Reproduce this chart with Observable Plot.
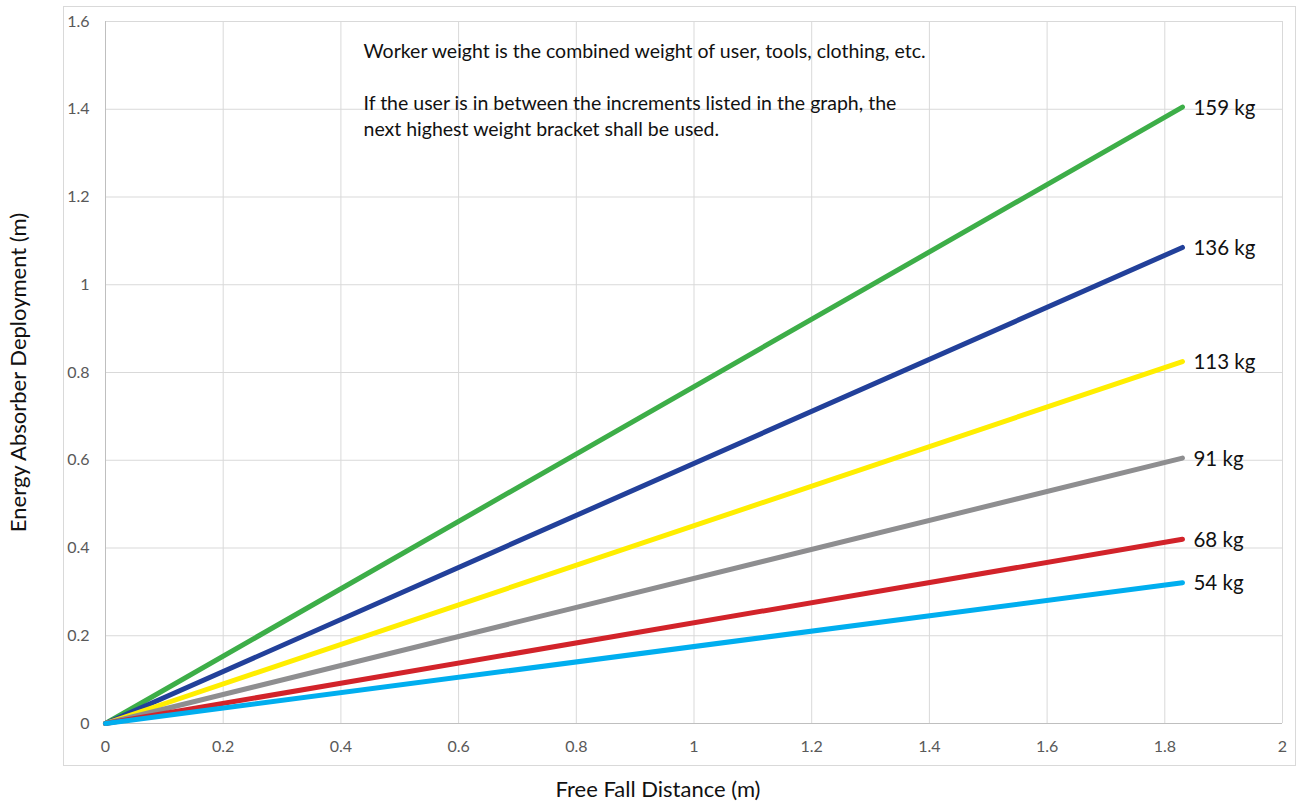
<!DOCTYPE html>
<html>
<head>
<meta charset="utf-8">
<script src="https://cdn.jsdelivr.net/npm/d3@7"></script>
<script src="https://cdn.jsdelivr.net/npm/@observablehq/plot@0.6"></script>
<style>
  html, body { margin: 0; padding: 0; background: #fff; }
  #chart { position: relative; width: 1302px; height: 803px; }
</style>
</head>
<body>
<div id="chart"></div>
<script>
// ---- data ----
const weights = ["159 kg", "136 kg", "113 kg", "91 kg", "68 kg", "54 kg"];
const colors = ["#3DAE48", "#22409A", "#FFEE00", "#8E8E90", "#D2232A", "#00AEEF"];
const freeFallStart = 0;
const freeFallEnd = 1.83;
const deploymentEnd = [1.405, 1.085, 0.825, 0.605, 0.42, 0.321];
const xTicks = [0, 0.2, 0.4, 0.6, 0.8, 1, 1.2, 1.4, 1.6, 1.8, 2];
const yTicks = [0, 0.2, 0.4, 0.6, 0.8, 1, 1.2, 1.4, 1.6];
const xTitle = "Free Fall Distance (m)";
const yTitle = "Energy Absorber Deployment (m)";
const note = "Worker weight is the combined weight of user, tools, clothing, etc.\n\nIf the user is in between the increments listed in the graph, the\nnext highest weight bracket shall be used.";

const rows = [];
weights.forEach((w, i) => {
  rows.push({weight: w, x: freeFallStart, y: 0, order: i});
  rows.push({weight: w, x: freeFallEnd, y: deploymentEnd[i], order: i});
});
const ends = weights.map((w, i) => ({weight: w, x: freeFallEnd, y: deploymentEnd[i]}));
const drawOrder = rows.slice().sort((a, b) => a.order - b.order);

const font = "Lato, 'Open Sans', sans-serif";

const plot = Plot.plot({
  width: 1302,
  height: 803,
  marginLeft: 105,
  marginRight: 20,
  marginTop: 21,
  marginBottom: 80,
  style: {fontFamily: font, background: "#fff"},
  x: {domain: [0, 2]},
  y: {domain: [0, 1.6]},
  color: {domain: weights, range: colors},
  marks: [
    Plot.ruleX(xTicks, {stroke: "#d9d9d9", strokeWidth: 1}),
    Plot.ruleY(yTicks, {stroke: "#d9d9d9", strokeWidth: 1}),
    Plot.ruleX([0], {stroke: "#bfbfbf", strokeWidth: 1}),
    Plot.ruleY([0], {stroke: "#bfbfbf", strokeWidth: 1}),
    Plot.axisX({ticks: xTicks, tickSize: 0, tickPadding: 17, fontSize: 16, color: "#595959",
      tickFormat: d => String(d), label: null}),
    Plot.axisY({ticks: yTicks, tickSize: 0, tickPadding: 16, fontSize: 16, color: "#595959",
      tickFormat: d => String(d), label: null}),
    Plot.text([xTitle], {frameAnchor: "bottom", dx: -36, dy: 66, textAnchor: "middle", lineAnchor: "middle", fontSize: 22, fill: "#111"}),
    Plot.text([yTitle], {frameAnchor: "left", dx: -87, rotate: -90, textAnchor: "middle", lineAnchor: "middle", fontSize: 22, fill: "#111"}),
    Plot.line(drawOrder, {x: "x", y: "y", z: "weight", stroke: "weight", strokeWidth: 5, strokeLinecap: "round"}),
    Plot.text(ends, {x: "x", y: "y", text: "weight", textAnchor: "start", dx: 11, dy: 1, fontSize: 20.5, fill: "#111"}),
    Plot.text([note], {frameAnchor: "top-left", dx: 258, dy: 18, textAnchor: "start", lineAnchor: "top", lineHeight: 1.34, fontSize: 19.5, fill: "#111"})
  ]
});

const svg = d3.select(plot);
svg.insert("rect", ":first-child")
  .attr("x", 63.5).attr("y", 6.5).attr("width", 1232).attr("height", 759)
  .attr("fill", "none").attr("stroke", "#d9d9d9");
document.getElementById("chart").append(plot);
</script>
</body>
</html>
